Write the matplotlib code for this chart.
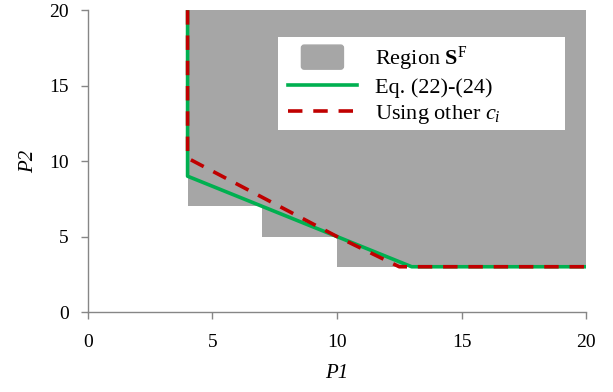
import matplotlib
matplotlib.use("Agg")
import matplotlib.pyplot as plt
from matplotlib.patches import Patch, FancyBboxPatch, Rectangle
from matplotlib.lines import Line2D
from matplotlib.legend_handler import HandlerPatch

plt.rcParams['font.family'] = ['Liberation Serif', 'DejaVu Serif']
plt.rcParams['mathtext.fontset'] = 'custom'
plt.rcParams['mathtext.rm'] = 'Liberation Serif'
plt.rcParams['mathtext.it'] = 'Liberation Serif:italic'
plt.rcParams['mathtext.bf'] = 'Liberation Serif:bold'

# feasible region boundary (staircase)
region_x = [4, 7, 7, 10, 10, 20]
region_y = [7, 7, 5, 5, 3, 3]
# Eq. (22)-(24)
eq_x = [4, 4, 13, 20]
eq_y = [20, 9, 3, 3]
# using other c_i
oth_x = [4, 4, 10, 12.5, 20]
oth_y = [20, 10.2, 5, 3, 3]

gray = '#a6a6a6'
green = '#00b050'
red = '#c00000'
axc = '#868686'
dash = (0, (4, 3))


def small_box(legend, orig_handle, xdescent, ydescent, width, height, fontsize):
    w = width * 0.61
    h = height * 1.55
    x0 = -xdescent + (width - w) / 2
    y0 = -ydescent + (height - h) / 2
    return FancyBboxPatch((x0, y0), w, h, boxstyle='round,pad=0,rounding_size=2')


fig = plt.figure(figsize=(6.13, 3.92), dpi=100)
ax = fig.add_axes([0.1435, 0.204, 0.8125, 0.77])

ax.fill_between(region_x, region_y, 20, color=gray, lw=0, zorder=1)
ax.plot(eq_x, eq_y, color=green, lw=2.6, zorder=2)
ax.plot(oth_x, oth_y, color=red, lw=2.6, ls=dash, zorder=3)

ax.set_xlim(0, 20)
ax.set_ylim(0, 20)
ax.set_xticks([0, 5, 10, 15, 20])
ax.set_yticks([0, 5, 10, 15, 20])
for s in ['top', 'right']:
    ax.spines[s].set_visible(False)
for s in ['left', 'bottom']:
    ax.spines[s].set_color(axc)
    ax.spines[s].set_linewidth(1)
ax.tick_params(direction='out', length=5, width=1, color=axc, labelsize=14)
ax.tick_params(axis='x', pad=11)
ax.tick_params(axis='y', pad=9)
ax.set_xlabel('P1', fontsize=15, style='italic', labelpad=9)
ax.set_ylabel('P2', fontsize=15, style='italic', labelpad=8)

# legend frame (wider than its contents, as in the original)
ax.add_patch(Rectangle((0.3815, 0.603), 0.5765, 0.3076, transform=ax.transAxes,
                       facecolor='white', edgecolor='none', zorder=4))

handles = [Patch(facecolor=gray, edgecolor=gray),
           Line2D([], [], color=green, lw=2.6),
           Line2D([], [], color=red, lw=2.6, ls=dash)]
labels = [r'Region $\mathbf{S}^{\mathrm{F}}$', 'Eq. (22)-(24)',
          r'Using other $c_i$']
leg = ax.legend(handles, labels, loc='upper left',
                bbox_to_anchor=(0.4016, 0.885), fontsize=16, frameon=False,
                handlelength=3.1, handletextpad=0.8, borderpad=0,
                labelspacing=0.2, borderaxespad=0,
                handler_map={Patch: HandlerPatch(patch_func=small_box)})
leg.set_zorder(5)

fig.savefig('out.png', dpi=100)
